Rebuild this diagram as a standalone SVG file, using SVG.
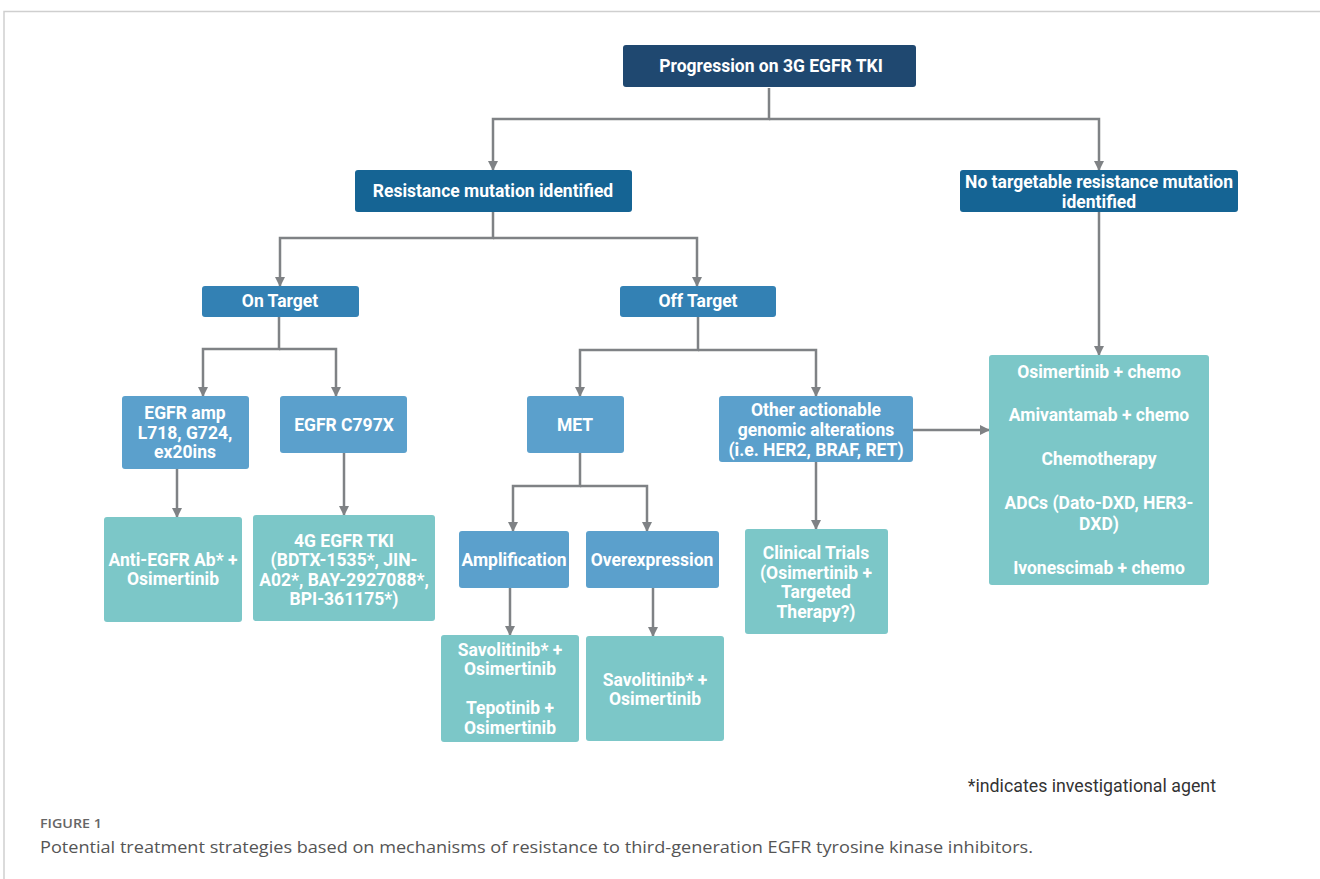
<svg xmlns="http://www.w3.org/2000/svg" width="1320" height="879" viewBox="0 0 1320 879">
<defs>
<marker id="ah" viewBox="0 0 10 10" refX="9" refY="5" markerWidth="10" markerHeight="10" markerUnits="userSpaceOnUse" orient="auto">
<path d="M0,0 L10,5 L0,10 Z" fill="#7f8285"/>
</marker>
<style>
.t{font-family:Roboto,"Liberation Sans",sans-serif;font-weight:700;font-size:17.5px;fill:#fff;text-anchor:middle}
.c{fill:none;stroke:#7f8285;stroke-width:2.5}
.a{marker-end:url(#ah)}
.n1{fill:#1f4870}
.n2{fill:#156494}
.n3{fill:#3381b4}
.n4{fill:#5ba0cc}
.n5{fill:#7cc7c8}
</style>
</defs>
<rect width="1320" height="879" fill="#fff"/>
<path d="M4,879 V11.5 H1320" fill="none" stroke="#cfcfcf" stroke-width="1.5"/>

<g id="connectors">
<path class="c" d="M769,88 V119 H493 V160"/>
<path class="c" d="M769,119 H1099 V160"/>
<path class="c a" d="M493,160 V170"/>
<path class="c a" d="M1099,160 V170"/>
<path class="c" d="M493,212 V238 H280 V276"/>
<path class="c" d="M493,238 H697 V276"/>
<path class="c a" d="M280,276 V286"/>
<path class="c a" d="M697,276 V286"/>
<path class="c" d="M279,317 V349 H203 V386"/>
<path class="c" d="M279,349 H336 V386"/>
<path class="c a" d="M203,386 V396"/>
<path class="c a" d="M336,386 V396"/>
<path class="c" d="M698,317 V350 H580 V386"/>
<path class="c" d="M698,350 H816 V386"/>
<path class="c a" d="M580,386 V396"/>
<path class="c a" d="M816,386 V396"/>
<path class="c" d="M580,453 V486 H513 V521"/>
<path class="c" d="M580,486 H647 V521"/>
<path class="c a" d="M513,521 V531"/>
<path class="c a" d="M647,521 V531"/>
<path class="c a" d="M177,469 V517"/>
<path class="c a" d="M344,453 V515"/>
<path class="c a" d="M510,588 V635"/>
<path class="c a" d="M653,588 V636"/>
<path class="c a" d="M816,462 V529"/>
<path class="c a" d="M913,430 H989"/>
<path class="c a" d="M1099,212 V355"/>
</g>

<g id="n-progression"><rect class="n1" x="623" y="45" width="293" height="42" rx="3"/><text class="t" x="771" y="72">Progression on 3G EGFR TKI</text></g>
<g id="n-resistance"><rect class="n2" x="355" y="170" width="277" height="42" rx="3"/><text class="t" x="493" y="197">Resistance mutation identified</text></g>
<g id="n-notarget"><rect class="n2" x="960" y="170" width="278" height="42" rx="3"/><text class="t" x="1099" y="188">No targetable resistance mutation</text><text class="t" x="1099" y="208">identified</text></g>
<g id="n-ontarget"><rect class="n3" x="202" y="286" width="157" height="31" rx="3"/><text class="t" x="280" y="307">On Target</text></g>
<g id="n-offtarget"><rect class="n3" x="620" y="286" width="156" height="31" rx="3"/><text class="t" x="698" y="307">Off Target</text></g>
<g id="n-egframp"><rect class="n4" x="122" y="396" width="127" height="73" rx="3"/><text class="t" x="185" y="419">EGFR amp</text><text class="t" x="185" y="439">L718, G724,</text><text class="t" x="185" y="458">ex20ins</text></g>
<g id="n-c797x"><rect class="n4" x="280" y="396" width="127" height="57" rx="3"/><text class="t" x="344" y="431">EGFR C797X</text></g>
<g id="n-met"><rect class="n4" x="527" y="396" width="97" height="57" rx="3"/><text class="t" x="575" y="431">MET</text></g>
<g id="n-other"><rect class="n4" x="719" y="396" width="194" height="66" rx="3"/><text class="t" x="816" y="416">Other actionable</text><text class="t" x="816" y="436">genomic alterations</text><text class="t" x="816" y="456">(i.e. HER2, BRAF, RET)</text></g>
<g id="n-amplification"><rect class="n4" x="459" y="531" width="110" height="57" rx="3"/><text class="t" x="514" y="566">Amplification</text></g>
<g id="n-overexpression"><rect class="n4" x="586" y="531" width="133" height="57" rx="3"/><text class="t" x="652" y="566">Overexpression</text></g>
<g id="n-antiegfr"><rect class="n5" x="104" y="517" width="138" height="105" rx="3"/><text class="t" x="173" y="566">Anti-EGFR Ab* +</text><text class="t" x="173" y="585">Osimertinib</text></g>
<g id="n-4g"><rect class="n5" x="253" y="515" width="182" height="106" rx="3"/><text class="t" x="344" y="547">4G EGFR TKI</text><text class="t" x="344" y="566">(BDTX-1535*, JIN-</text><text class="t" x="344" y="586">A02*, BAY-2927088*,</text><text class="t" x="344" y="605">BPI-361175*)</text></g>
<g id="n-savtep"><rect class="n5" x="441" y="635" width="138" height="107" rx="3"/><text class="t" x="510" y="656">Savolitinib* +</text><text class="t" x="510" y="675">Osimertinib</text><text class="t" x="510" y="714">Tepotinib +</text><text class="t" x="510" y="734">Osimertinib</text></g>
<g id="n-sav"><rect class="n5" x="586" y="636" width="138" height="105" rx="3"/><text class="t" x="655" y="686">Savolitinib* +</text><text class="t" x="655" y="705">Osimertinib</text></g>
<g id="n-clinical"><rect class="n5" x="745" y="529" width="143" height="105" rx="3"/><text class="t" x="816" y="559">Clinical Trials</text><text class="t" x="816" y="579">(Osimertinib +</text><text class="t" x="816" y="598">Targeted</text><text class="t" x="816" y="618">Therapy?)</text></g>
<g id="n-options"><rect class="n5" x="989" y="355" width="220" height="230" rx="3"/><text class="t" x="1099" y="378">Osimertinib + chemo</text><text class="t" x="1099" y="421">Amivantamab + chemo</text><text class="t" x="1099" y="465">Chemotherapy</text><text class="t" x="1099" y="509">ADCs (Dato-DXD, HER3-</text><text class="t" x="1099" y="530">DXD)</text><text class="t" x="1099" y="574">Ivonescimab + chemo</text></g>

<text x="1216" y="792" font-family="Roboto,'Liberation Sans',sans-serif" font-size="17.8" fill="#333" text-anchor="end">*indicates investigational agent</text>
<text x="40" y="828" font-family="'Open Sans','Liberation Sans',sans-serif" font-size="13" font-weight="600" fill="#666" textLength="62" lengthAdjust="spacingAndGlyphs">FIGURE 1</text>
<text x="40" y="853" font-family="'Open Sans','Liberation Sans',sans-serif" font-size="16" fill="#555" textLength="993" lengthAdjust="spacingAndGlyphs">Potential treatment strategies based on mechanisms of resistance to third-generation EGFR tyrosine kinase inhibitors.</text>
</svg>
